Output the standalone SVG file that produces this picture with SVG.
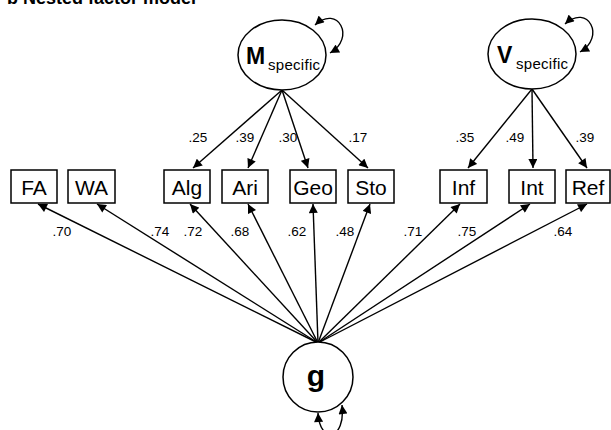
<svg xmlns="http://www.w3.org/2000/svg" width="611" height="430" viewBox="0 0 611 430">
<style>
.box{fill:#fff;stroke:#000;stroke-width:1.5}
.ell{fill:#fff;stroke:#000;stroke-width:1.5}
.bt{font-family:"Liberation Sans",Arial,sans-serif;font-size:21px;text-anchor:middle;fill:#000}
.lb{font-family:"Liberation Sans",Arial,sans-serif;font-size:13.5px;text-anchor:middle;fill:#000}
.big{font-family:"Liberation Sans",Arial,sans-serif;font-weight:bold;fill:#000}
.sub{font-family:"Liberation Sans",Arial,sans-serif;font-size:15px;fill:#000}
.c line,.c path{stroke:#000;stroke-width:1.4;fill:none;marker-end:url(#ah)}
.c path.loop{marker-start:url(#ah)}
</style>
<defs>
<marker id="ah" viewBox="0 0 10 10" refX="10" refY="5" markerWidth="10" markerHeight="9" markerUnits="userSpaceOnUse" orient="auto-start-reverse">
<path d="M0,0 L10,5 L0,10 z" fill="#000"/>
</marker>
</defs>
<text x="7" y="4" class="big" font-size="18" fill="#555">b Nested factor model</text>
<g id="connectors" class="c">
<line x1="318" y1="343" x2="38" y2="204"/>
<line x1="318" y1="343" x2="97" y2="204"/>
<line x1="318" y1="343" x2="190" y2="204"/>
<line x1="318" y1="343" x2="248" y2="204"/>
<line x1="318" y1="343" x2="313" y2="204"/>
<line x1="318" y1="343" x2="370" y2="204"/>
<line x1="318" y1="343" x2="460" y2="204"/>
<line x1="318" y1="343" x2="530" y2="204"/>
<line x1="318" y1="343" x2="587" y2="204"/>
<line x1="282" y1="90" x2="193" y2="168"/>
<line x1="282" y1="90" x2="248" y2="168"/>
<line x1="282" y1="90" x2="308" y2="168"/>
<line x1="282" y1="90" x2="368" y2="168"/>
<line x1="532" y1="89" x2="468" y2="168"/>
<line x1="532" y1="89" x2="533" y2="168"/>
<line x1="532" y1="89" x2="587" y2="168"/>
<path class="loop" d="M315,25 C338,4 356,38 330,53"/>
<path class="loop" d="M565,24 C588,3 606,37 580,52"/>
<path class="loop" d="M318,413 C320,445 346,440 342,405"/>
</g>
<g id="labels">
<text class="lb" x="198" y="142">.25</text>
<text class="lb" x="245" y="142">.39</text>
<text class="lb" x="288" y="142">.30</text>
<text class="lb" x="358" y="142">.17</text>
<text class="lb" x="465" y="142">.35</text>
<text class="lb" x="515" y="142">.49</text>
<text class="lb" x="585" y="142">.39</text>
<text class="lb" x="62" y="236">.70</text>
<text class="lb" x="160" y="236">.74</text>
<text class="lb" x="193" y="236">.72</text>
<text class="lb" x="240" y="236">.68</text>
<text class="lb" x="297" y="236">.62</text>
<text class="lb" x="345" y="236">.48</text>
<text class="lb" x="413" y="236">.71</text>
<text class="lb" x="467" y="236">.75</text>
<text class="lb" x="563" y="236">.64</text>
</g>
<g id="FA"><rect class="box" x="11" y="170" width="46" height="33"/><text class="bt" x="34" y="195">FA</text></g>
<g id="WA"><rect class="box" x="68" y="170" width="47" height="33"/><text class="bt" x="91.5" y="195">WA</text></g>
<g id="Alg"><rect class="box" x="164" y="170" width="46" height="33"/><text class="bt" x="187" y="195">Alg</text></g>
<g id="Ari"><rect class="box" x="222" y="170" width="46" height="33"/><text class="bt" x="245" y="195">Ari</text></g>
<g id="Geo"><rect class="box" x="290" y="170" width="46" height="33"/><text class="bt" x="313" y="195">Geo</text></g>
<g id="Sto"><rect class="box" x="348" y="170" width="46" height="33"/><text class="bt" x="371" y="195">Sto</text></g>
<g id="Inf"><rect class="box" x="440" y="170" width="47" height="33"/><text class="bt" x="463.5" y="195">Inf</text></g>
<g id="Int"><rect class="box" x="509" y="170" width="46" height="33"/><text class="bt" x="532" y="195">Int</text></g>
<g id="Ref"><rect class="box" x="566" y="170" width="44" height="33"/><text class="bt" x="588" y="195">Ref</text></g>
<g id="Mspecific"><ellipse class="ell" cx="282" cy="55" rx="44" ry="35"/><text class="big" font-size="23" x="246" y="64">M</text><text class="sub" x="268" y="70" textLength="52">specific</text></g>
<g id="Vspecific"><ellipse class="ell" cx="532" cy="54" rx="44" ry="35"/><text class="big" font-size="23" x="497" y="63">V</text><text class="sub" x="516" y="69" textLength="52">specific</text></g>
<g id="g"><circle class="ell" cx="318" cy="377" r="35"/><text class="big" font-size="30" x="316" y="386" text-anchor="middle">g</text></g>
</svg>
